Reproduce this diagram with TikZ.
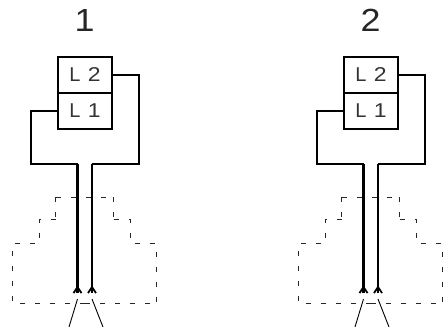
\documentclass[tikz,border=0pt]{standalone}
\usepackage{fontspec}
\setmainfont{Liberation Sans}
\tikzset{
  lbox/.style={draw=black,line width=2pt,fill=white,minimum width=54.5pt,minimum height=36pt,inner sep=0pt,font=\fontsize{20}{20}\selectfont,text=black!80},
  title/.style={inner sep=0pt,font=\fontsize{32}{32}\selectfont,text=black!85},
  wire/.style={line width=2pt,line join=miter},
  lead/.style={line width=2.4pt},
  chev/.style={line width=1.8pt,line join=miter},
  thin lead/.style={line width=.9pt},
  outline/.style={line width=.8pt,black!85,dash pattern=on 5pt off 10pt}
}
\begin{document}
\begin{tikzpicture}[x=1pt,y=-1pt]
\useasboundingbox (0,0) rectangle (445,327);
\foreach \s/\dx/\lab in {a/0/1,b/286/2}{
\begin{scope}[xshift=\dx pt]
  % dashed outline
  \draw[outline] (55.7,197)--(113.7,197);
  \draw[outline] (55.7,197)--(55.7,219.3);
  \draw[outline] (113.7,197)--(113.7,219.3);
  \draw[outline] (55.7,219.3)--(39,219.3)--(39,243.3)--(12.7,243.3)--(12.7,303);
  \draw[outline] (113.7,219.3)--(130,219.3)--(130,243.3)--(156.3,243.3)--(156.3,303);
  \draw[outline] (85,303)--(12.7,303);
  \draw[outline] (85,303)--(156.3,303);
  % labelled boxes
  \node[title] (t\s) at (84.5,20.5) {\scalebox{1.12}[1]{\lab}};
  \node[lbox] (two\s) at (85,74.5) {L\hspace{.36em}\scalebox{1.15}[1]{2}};
  \node[lbox] (one\s) at (85,110.5) {L\hspace{.36em}\scalebox{1.15}[1]{1}};
  % wire end points
  \coordinate (lt\s) at (31,164);
  \coordinate (rt\s) at (138.5,164);
  \coordinate (le\s) at (77.5,293);
  \coordinate (re\s) at (92,293);
  \coordinate (ls\s) at (77.5,299);
  \coordinate (rs\s) at (92,299);
  \coordinate (lf\s) at (69,327);
  \coordinate (rf\s) at (103,327);
  % wires
  \draw[wire] (one\s.west) -| (lt\s) -- (lt\s -| le\s);
  \draw[wire] (two\s.east) -| (rt\s) -- (rt\s -| re\s);
  \draw[lead] (lt\s -| le\s) -- (le\s);
  \draw[lead] (rt\s -| re\s) -- (re\s);
  % chevrons
  \draw[chev] ([shift={(-4,0)}]le\s) -- ([shift={(0,-6)}]le\s) -- ([shift={(4,0)}]le\s);
  \draw[chev] ([shift={(-4,0)}]re\s) -- ([shift={(0,-6)}]re\s) -- ([shift={(4,0)}]re\s);
  % thin leads
  \draw[thin lead] (ls\s) -- (lf\s);
  \draw[thin lead] (rs\s) -- (rf\s);
\end{scope}
}
\end{tikzpicture}
\end{document}
